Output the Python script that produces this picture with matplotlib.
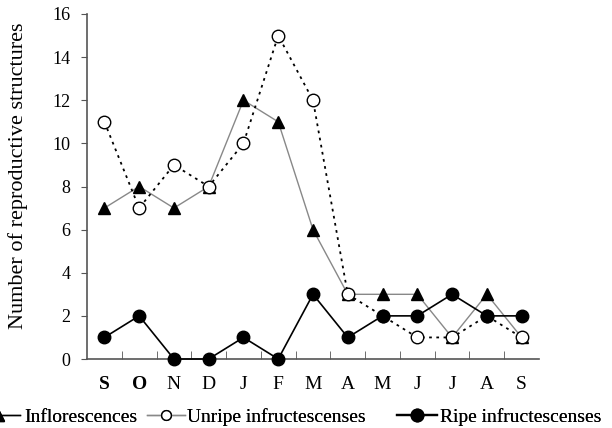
import matplotlib
matplotlib.use("Agg")
import matplotlib.pyplot as plt
from matplotlib.lines import Line2D

months = ["S", "O", "N", "D", "J", "F", "M", "A", "M", "J", "J", "A", "S"]
inflorescences = [7, 8, 7, 8, 12, 11, 6, 3, 3, 3, 1, 3, 1]
unripe = [11, 7, 9, 8, 10, 15, 12, 3, 2, 1, 1, 2, 1]
ripe = [1, 2, 0, 0, 1, 0, 3, 1, 2, 2, 3, 2, 2]
yticks = [0, 2, 4, 6, 8, 10, 12, 14, 16]

plt.rcParams['font.family'] = ['Liberation Serif', 'DejaVu Serif']

W, H = 612, 428
fig = plt.figure(figsize=(W / 100, H / 100), dpi=100)
ax = fig.add_axes([87 / W, 1 - 359 / H, (539 - 87) / W, (359 - 14) / H])
x = list(range(len(months)))

ax.plot(x, inflorescences, color='#888888', lw=1.0, marker='^', ms=9,
        mfc='black', mec='black', zorder=3, clip_on=False)
ax.plot(x, unripe, color='black', lw=1.3, ls=(0, (1.5, 2.5)), marker='o', ms=9,
        mfc='white', mec='black', mew=1.0, zorder=4, clip_on=False)
ax.plot(x, ripe, color='black', lw=1.2, marker='o', ms=9,
        mfc='black', mec='black', zorder=5, clip_on=False)

ax.set_xlim(-0.5, 12.5)
ax.set_ylim(0, 16)
ax.set_yticks(yticks)
ax.set_yticklabels([str(v) for v in yticks], fontsize=13)
ax.set_xticks(x)
ax.set_xticklabels(months, fontsize=14)
for i, lab in enumerate(ax.get_xticklabels()):
    if i < 2:
        lab.set_fontweight('bold')
ax.tick_params(axis='x', length=0, pad=12)
ax.set_xticks([i + 0.5 for i in range(12)], minor=True)
ax.tick_params(axis='x', which='minor', direction='in', length=6, color='#555555')
ax.tick_params(axis='y', direction='out', length=4, color='#555555', pad=8)
for s in ['top', 'right']:
    ax.spines[s].set_visible(False)
for s in ['left', 'bottom']:
    ax.spines[s].set_color('#555555')
    ax.spines[s].set_linewidth(1.2)
ax.set_ylabel("Number of reproductive structures", fontsize=16)
ax.yaxis.set_label_coords((28 - 87) / 452, (359 - 176) / 345)

labels = ["Inflorescences", "Unripe infructescenses", "Ripe infructescenses"]
handles = [
    Line2D([], [], color='black', lw=1.0, marker='^', ms=9, mfc='black'),
    Line2D([], [], color='#888888', lw=1.0, marker='o', ms=7, mfc='white', mec='black'),
    Line2D([], [], color='black', lw=1.6, marker='o', ms=9, mfc='black'),
]
spec = [(-23, 2.2, 0.25), (147, 1.95, 0.1), (397, 2.05, 0.15)]
for h, lab, (px, hl, tp) in zip(handles, labels, spec):
    lg = fig.legend([h], [lab], loc='center left', bbox_to_anchor=(px / W, 1 - 417 / H),
                    frameon=False, fontsize=14, handlelength=hl, handletextpad=tp,
                    borderpad=0, borderaxespad=0)
    fig.add_artist(lg)

fig.savefig("out.png", dpi=100)
